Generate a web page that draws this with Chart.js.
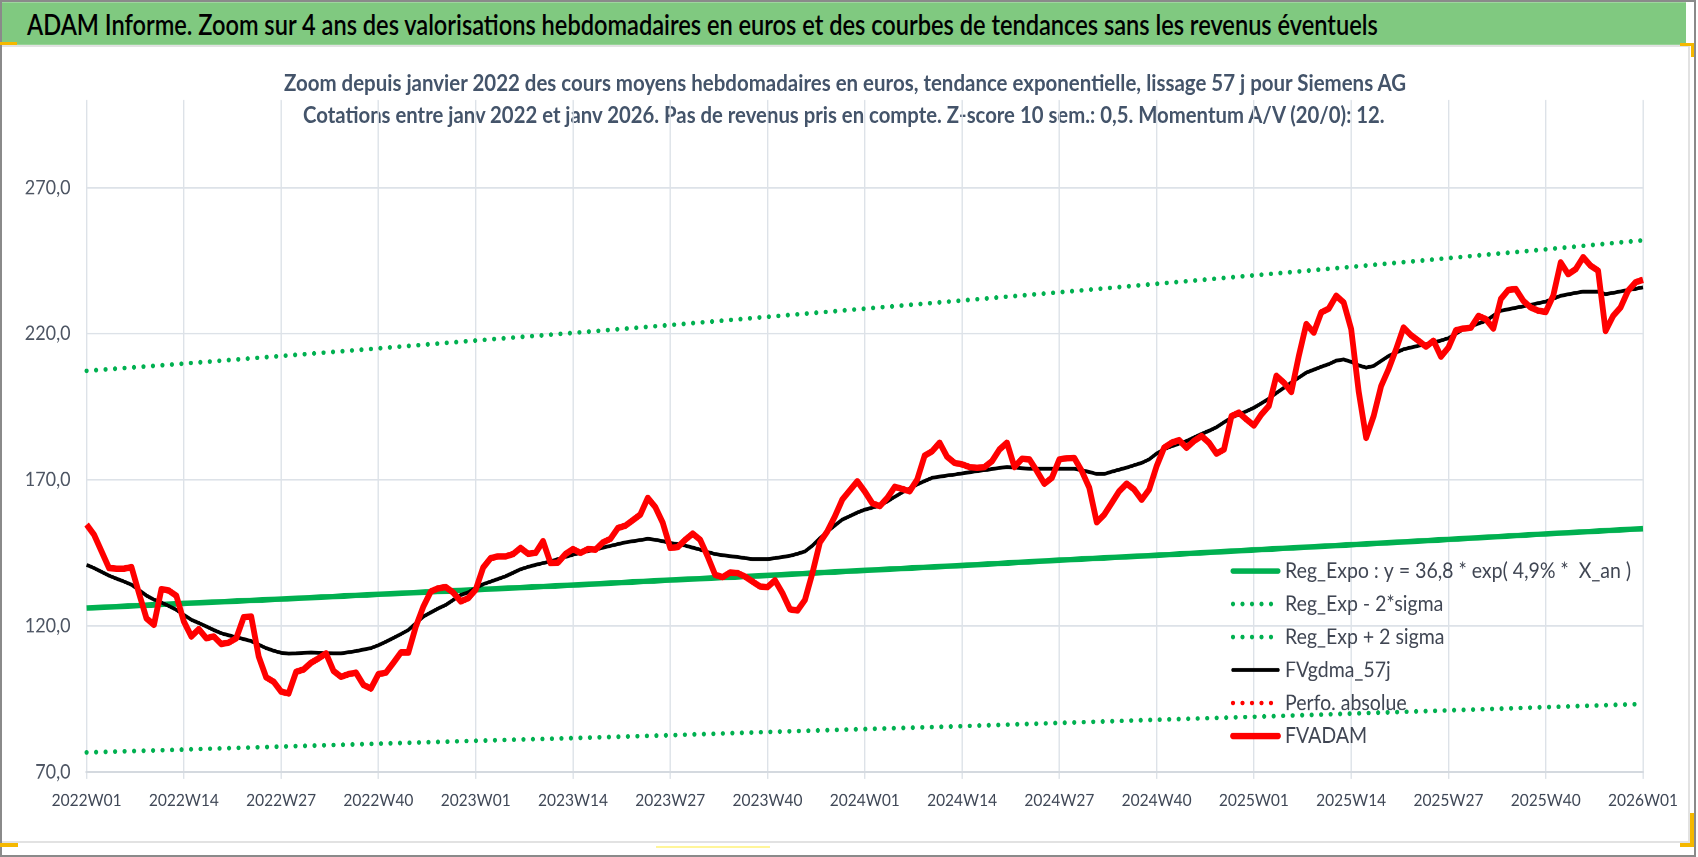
<!DOCTYPE html>
<html lang="fr">
<head>
<meta charset="utf-8">
<title>ADAM Informe - Siemens AG</title>
<script src="https://cdn.jsdelivr.net/npm/chart.js@4.4.1/dist/chart.umd.min.js"></script>
<style>
  html, body { margin: 0; padding: 0; background: #fff; }
  #page { position: relative; width: 1698px; height: 857px; overflow: hidden; background: #fff; font-family: Lato, 'Open Sans', sans-serif; }
  #frame { position: absolute; left: 0; top: 0; width: 1696px; height: 857px; box-sizing: border-box; border: 2px solid #8a8a8a; }
  #inner { position: absolute; left: 2px; top: 45px; width: 1688px; height: 798px; box-sizing: border-box; border: 2px solid #e2e2e2; border-left: none; }
  /* the reference is stretched vertically, so everything is laid out in a squashed box and scaled back */
  #stretch { position: absolute; left: 0; top: 0; width: 1698px; height: 765px; transform-origin: 0 0; transform: scaleY(1.1203); }
  #banner { position: absolute; left: 2px; top: 2.4px; width: 1684px; height: 37.8px; background: #80c980; }
  .fit { position: absolute; white-space: nowrap; line-height: 1.2; transform-origin: 0 50%; }
  #title { left: 26.7px; top: 6.6px; font-size: 24.9px; font-weight: 600; color: #000; }
  #sub1, #sub2 { font-size: 19.6px; font-weight: 700; color: #44546a; }
  #sub1 { left: 283.5px; top: 61.6px; }
  #sub2 { left: 303.3px; top: 91.2px; }
  #chartBox { position: absolute; left: 0; top: 0; width: 1698px; height: 765px; }
  .mark { position: absolute; background: #f5b800; }
</style>
</head>
<body>
<div id="page">
  <div id="frame"></div>
  <div id="inner"></div>
  <div id="stretch">
    <div id="banner"></div>
    <div id="title" class="fit">ADAM Informe. Zoom sur 4 ans des valorisations hebdomadaires en euros et des courbes de tendances sans les revenus éventuels</div>
    <div id="sub1" class="fit">Zoom depuis janvier 2022 des cours moyens hebdomadaires en euros, tendance exponentielle, lissage 57 j pour Siemens AG</div>
    <div id="sub2" class="fit">Cotations entre janv 2022 et janv 2026. Pas de revenus pris en compte. Z-score 10 sem.: 0,5. Momentum A/V (20/0): 12.</div>
    <div id="chartBox"><canvas id="chart"></canvas></div>
  </div>
  <div class="mark" style="left:0;top:42px;width:17px;height:3px"></div>
  <div class="mark" style="left:1680px;top:43px;width:14px;height:3px"></div>
  <div class="mark" style="left:1691px;top:43px;width:3px;height:14px"></div>
  <div class="mark" style="left:0;top:843px;width:18px;height:4px"></div>
  <div class="mark" style="left:1690px;top:813px;width:4px;height:34px"></div>
  <div class="mark" style="left:1680px;top:843px;width:14px;height:4px"></div>
  <div class="mark" style="left:656px;top:846px;width:114px;height:2px;background:#fff59a"></div>
</div>

<script>
// weekly categories 2022W01 .. 2026W01 (52 ISO weeks in each of 2022-2025)
const weeks = [];
for (const year of [2022, 2023, 2024, 2025]) {
  for (let w = 1; w <= 52; w++) weeks.push(year + 'W' + String(w).padStart(2, '0'));
}
weeks.push('2026W01');

const tickLabels = ['2022W01', '2022W14', '2022W27', '2022W40', '2023W01', '2023W14', '2023W27', '2023W40',
  '2024W01', '2024W14', '2024W27', '2024W40', '2025W01', '2025W14', '2025W27', '2025W40', '2026W01'];
const yTicks = [70, 120, 170, 220, 270];

// trend lines, read at each labelled week
const regExpo = [126.1, 127.7, 129.2, 130.8, 132.4, 134.0, 135.7, 137.3, 139.0, 140.7, 142.5, 144.2, 146.0, 147.8, 149.6, 151.5, 153.3];
const regLow = [76.7, 77.7, 78.7, 79.7, 80.7, 81.6, 82.6, 83.7, 84.7, 85.7, 86.8, 87.9, 88.9, 90.0, 91.1, 92.2, 93.3];
const regHigh = [207.3, 209.8, 212.4, 215.0, 217.7, 220.3, 223.0, 225.8, 228.6, 231.4, 234.2, 237.1, 240.0, 242.9, 245.9, 248.9, 252.0];

// weekly average price (FVADAM)
const fvadam = [
  154.7, 151.2, 145.5, 139.8, 139.6, 139.6, 140.1, 131.2, 122.6, 120.4, 132.6, 132.1, 130.3,
  121.5, 116.4, 118.9, 115.8, 116.4, 113.8, 114.3, 115.8, 123.0, 123.2, 109.5, 102.4, 100.9,
  97.5, 96.9, 104.3, 105.1, 107.4, 108.9, 110.6, 104.6, 102.6, 103.5, 104.0, 99.8, 98.6,
  103.5, 104.0, 107.4, 110.9, 110.9, 119.8, 126.6, 131.8, 132.9, 133.3, 131.4, 128.4, 129.5,
  132.4, 140.0, 143.2, 143.8, 143.8, 144.6, 146.7, 144.7, 145.0, 149.0, 141.5, 141.7, 144.6,
  146.3, 145.0, 146.3, 146.1, 148.6, 149.8, 153.5, 154.3, 156.2, 158.1, 163.8, 160.7, 155.3,
  146.7, 147.0, 149.5, 151.6, 149.5, 143.8, 137.5, 136.7, 138.3, 138.1, 136.9, 135.2, 133.5,
  133.3, 135.6, 131.2, 125.7, 125.3, 128.9, 138.1, 148.6, 152.4, 157.5, 163.3, 166.4, 169.5,
  166.0, 162.0, 161.0, 163.8, 167.6, 166.9, 166.1, 170.1, 178.3, 179.8, 182.7, 177.9, 175.8,
  175.3, 174.4, 174.1, 174.4, 176.4, 180.4, 182.7, 174.4, 177.2, 177.0, 173.0, 168.7, 170.7,
  177.0, 177.4, 177.5, 173.0, 167.3, 155.5, 158.1, 162.1, 166.1, 168.7, 166.7, 163.2, 166.7,
  174.7, 181.0, 182.7, 183.6, 181.0, 183.3, 185.0, 182.7, 179.0, 180.4, 191.8, 193.0, 190.7,
  188.6, 192.4, 195.3, 205.6, 203.3, 200.1, 212.4, 223.3, 220.4, 227.3, 228.6, 233.0, 230.7,
  221.6, 200.3, 184.4, 191.8, 202.1, 207.9, 214.7, 222.1, 219.5, 217.6, 215.6, 217.6, 212.2,
  215.3, 221.2, 221.8, 222.1, 226.1, 225.0, 221.8, 231.9, 235.0, 235.3, 231.3, 229.0, 227.9,
  227.5, 233.0, 244.4, 240.4, 242.1, 246.2, 243.3, 241.6, 221.0, 226.1, 229.0, 234.7, 237.6,
  238.5
];

// 57-day smoothed line (FVgdma_57j)
const fvgdma = [
  140.9, 139.8, 138.5, 137.2, 136.2, 135.2, 134.1, 132.3, 130.4, 129.0, 128.0, 126.8, 125.5,
  123.8, 122.1, 121.0, 119.8, 118.6, 117.5, 116.8, 116.1, 115.5, 114.8, 113.6, 112.4, 111.5,
  110.8, 110.5, 110.6, 110.8, 110.9, 110.8, 110.7, 110.6, 110.6, 111.0, 111.4, 111.9, 112.4,
  113.4, 114.6, 115.9, 117.2, 118.6, 120.9, 123.2, 124.6, 126.0, 127.2, 128.9, 130.6, 131.5,
  133.0, 134.3, 135.2, 136.1, 137.0, 138.2, 139.4, 140.2, 140.9, 141.5, 142.1, 142.9, 143.6,
  144.4, 145.0, 145.6, 146.1, 146.8, 147.4, 148.0, 148.6, 149.0, 149.4, 149.8, 149.5, 149.0,
  148.4, 148.0, 147.5, 146.8, 146.1, 145.3, 144.6, 144.2, 143.9, 143.6, 143.2, 142.9, 142.9,
  142.9, 143.2, 143.6, 144.0, 144.7, 145.5, 147.5, 150.0, 152.3, 154.4, 156.4, 157.6, 158.8,
  159.8, 160.5, 161.2, 162.6, 164.2, 165.7, 167.1, 168.4, 169.6, 170.7, 171.1, 171.5, 171.8,
  172.2, 172.6, 173.0, 173.3, 173.7, 174.1, 174.4, 174.2, 174.0, 173.8, 173.8, 173.8, 173.8,
  173.8, 173.8, 173.8, 173.3, 172.7, 172.0, 172.0, 172.8, 173.5, 174.2, 175.0, 175.8, 177.0,
  179.0, 180.5, 181.5, 182.4, 183.3, 184.5, 185.7, 186.8, 188.0, 189.7, 191.3, 192.4, 193.5,
  194.7, 196.2, 197.8, 199.7, 201.5, 203.3, 205.0, 206.7, 207.7, 208.7, 209.6, 210.8, 211.2,
  210.4, 209.2, 208.4, 209.0, 210.7, 212.4, 213.6, 214.7, 215.3, 215.9, 216.4, 217.0, 217.7,
  218.5, 220.0, 221.6, 222.5, 223.5, 224.4, 226.2, 227.9, 228.4, 228.9, 229.4, 229.9, 230.5,
  231.0, 232.0, 233.0, 233.5, 234.0, 234.4, 234.4, 234.4, 233.6, 234.0, 234.5, 235.0, 235.4,
  235.9
];

const FONT = 'Lato, "Open Sans", sans-serif';
const GREEN = '#00b050';
const GRID = '#dde2e8';
const DOTS = [0, 9.5];

const trendPoints = (values) => tickLabels.map((w, i) => ({ x: w, y: values[i] }));

// legend drawn inside the plot area, bottom right, like the Excel original
const insideLegend = {
  id: 'insideLegend',
  afterDraw(chart) {
    const ctx = chart.ctx;
    ctx.save();
    ctx.font = '19.5px ' + FONT;
    ctx.textBaseline = 'middle';
    chart.data.datasets.forEach((ds, i) => {
      const y = 509.7 + i * 29.45;
      ctx.beginPath();
      ctx.strokeStyle = ds.borderColor;
      ctx.lineWidth = ds.borderWidth;
      ctx.lineCap = 'round';
      ctx.setLineDash(ds.borderDash || []);
      ctx.moveTo(1233, y);
      ctx.lineTo(1278, y);
      ctx.stroke();
      ctx.fillStyle = '#404653';
      ctx.fillText(ds.label, 1285, y);
    });
    ctx.restore();
  }
};

function renderChart() {
  const config = {
    type: 'line',
    data: {
      labels: weeks,
      datasets: [
        { label: 'Reg_Expo : y = 36,8 * exp( 4,9% *  X_an )', data: trendPoints(regExpo), borderColor: GREEN, borderWidth: 5, order: 3 },
        { label: 'Reg_Exp - 2*sigma', data: trendPoints(regLow), borderColor: GREEN, borderWidth: 4.2, borderDash: DOTS, borderCapStyle: 'round', order: 4 },
        { label: 'Reg_Exp + 2 sigma', data: trendPoints(regHigh), borderColor: GREEN, borderWidth: 4.2, borderDash: DOTS, borderCapStyle: 'round', order: 4 },
        { label: 'FVgdma_57j', data: fvgdma, borderColor: '#000000', borderWidth: 3.4, order: 1 },
        { label: 'Perfo. absolue', data: [], borderColor: '#ff0000', borderWidth: 4.2, borderDash: DOTS, borderCapStyle: 'round', order: 5 },
        { label: 'FVADAM', data: fvadam, borderColor: '#ff0000', borderWidth: 5.8, borderJoinStyle: 'round', order: 0 },
      ],
    },
    options: {
      animation: false,
      responsive: true,
      maintainAspectRatio: false,
      devicePixelRatio: 2,
      layout: { padding: { top: 89.3, left: 0, right: 55, bottom: 35.9 } },
      elements: { point: { radius: 0, hoverRadius: 0 }, line: { tension: 0, fill: false } },
      plugins: { legend: { display: false }, tooltip: { enabled: false }, title: { display: false } },
      scales: {
        x: {
          type: 'category',
          offset: false,
          afterFit: (axis) => { axis.height = 40; },
          grid: { color: GRID, lineWidth: 1.4, drawTicks: true, tickLength: 6.25 },
          border: { display: true, color: '#d4d9df', width: 2 },
          ticks: {
            autoSkip: false,
            maxRotation: 0,
            minRotation: 0,
            padding: 10,
            color: '#3f4756',
            font: { family: FONT, size: 15.5 },
            callback: (value, index) => (tickLabels.includes(weeks[index]) ? weeks[index] : null),
          },
        },
        y: {
          min: 70,
          max: 300,
          afterBuildTicks: (axis) => { axis.ticks = yTicks.map((v) => ({ value: v })); },
          afterFit: (axis) => { axis.width = 86.6; },
          grid: { color: GRID, lineWidth: 1.4, drawTicks: false },
          border: { display: false },
          ticks: {
            padding: 16,
            color: '#4d5563',
            font: { family: FONT, size: 18 },
            callback: (v) => v.toFixed(1).replace('.', ','),
          },
        },
      },
    },
    plugins: [insideLegend],
  };
  new Chart(document.getElementById('chart').getContext('2d'), config);
}

// stretch the html texts to the widths they have in the reference
function fitText(id, width) {
  const el = document.getElementById(id);
  el.style.transform = 'scaleX(' + width / el.offsetWidth + ')';
}

document.fonts.ready.then(() => {
  fitText('title', 1350.6);
  fitText('sub1', 1122.5);
  fitText('sub2', 1082.1);
  renderChart();
});
</script>
</body>
</html>
